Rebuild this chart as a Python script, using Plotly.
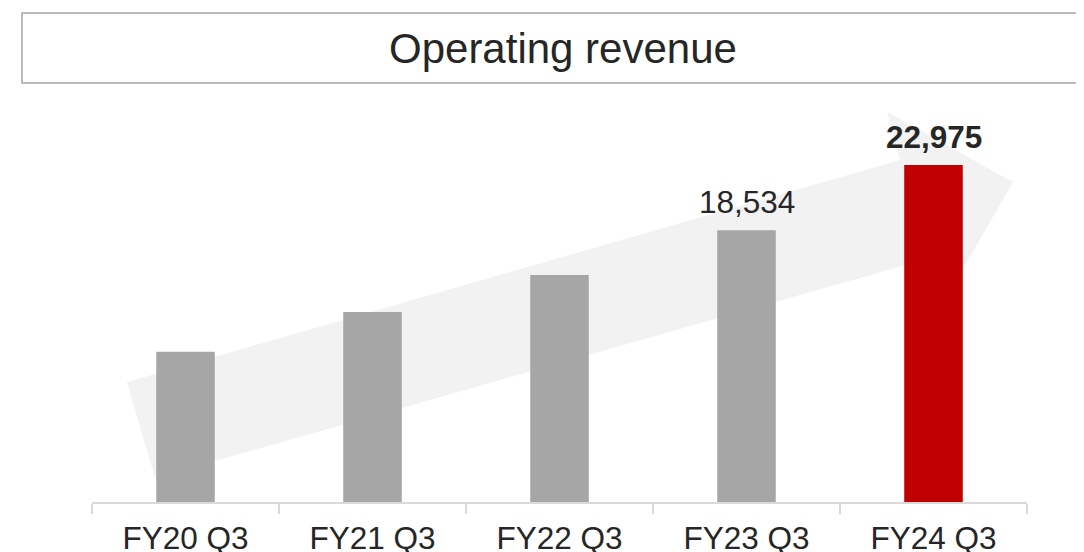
import plotly.graph_objects as go

categories = ["FY20 Q3", "FY21 Q3", "FY22 Q3", "FY23 Q3", "FY24 Q3"]
revenue = [10250, 12950, 15480, 18534, 22975]
labels = ["", "", "", "18,534", "<b>22,975</b>"]
bar_colors = ["#a6a6a6", "#a6a6a6", "#a6a6a6", "#a6a6a6", "#c00000"]

FONT = "Liberation Sans, Arial, sans-serif"

fig = go.Figure()
fig.add_trace(go.Bar(
    x=categories, y=revenue,
    marker=dict(color=bar_colors, line=dict(width=0)),
    width=0.313,
    hoverinfo="skip",
))

for cat, val, lab in zip(categories, revenue, labels):
    if lab:
        fig.add_annotation(x=cat, y=val, text=lab, showarrow=False,
                           yanchor="middle", yshift=28,
                           font=dict(family=FONT, size=31.5, color="#262626"))

# decorative background arrow (paper coordinates)
arrow = [(0.0374, 0.2985), (0.8642, 0.8507), (0.8503, 0.9701), (0.9850, 0.7960),
         (0.9080, 0.4851), (0.8930, 0.6045), (0.0674, 0.0597)]
path = "M " + " L ".join(f"{x},{y}" for x, y in arrow) + " Z"

# the page body adds an 8px offset; margins compensate for it
fig.update_layout(
    width=1084, height=552,
    margin=dict(l=84, r=65, t=92, b=58, autoexpand=False),
    paper_bgcolor="white", plot_bgcolor="white",
    showlegend=False,
    title=dict(text="Operating revenue", x=0.5037, xref="paper", xanchor="center",
               y=1 - 40 / 552, yref="container", yanchor="middle",
               font=dict(family=FONT, size=42, color="#262626")),
    shapes=[
        dict(type="path", path=path, xref="paper", yref="paper",
             fillcolor="#f2f2f2", line=dict(width=0), layer="below"),
        dict(type="rect", xref="paper", yref="paper",
             x0=-0.0749, x1=1.07, y0=1.0423, y1=1.2164,
             line=dict(color="#a6a6a6", width=1.5), fillcolor="rgba(0,0,0,0)"),
    ],
    xaxis=dict(
        showline=True, linecolor="#d9d9d9", linewidth=1.5,
        ticks="outside", ticklen=10, tickcolor="#d9d9d9", tickwidth=1.5,
        tickson="boundaries", showgrid=False, zeroline=False,
        tickfont=dict(family=FONT, size=31.5, color="#262626"),
        ticklabelstandoff=7,
        range=[-0.5, 4.5], automargin=False,
    ),
    yaxis=dict(visible=False, range=[0, 27407], showgrid=False, zeroline=False,
               automargin=False),
)

fig.write_html("out.html")
